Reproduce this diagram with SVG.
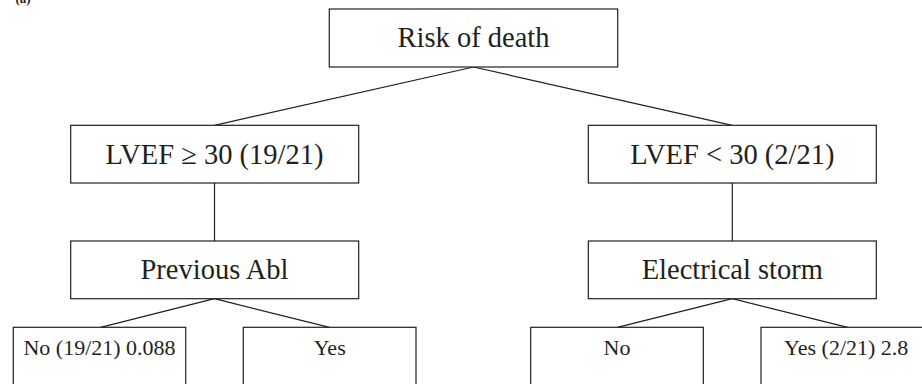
<svg xmlns="http://www.w3.org/2000/svg" width="922" height="384" viewBox="0 0 922 384">
<style>
.box{fill:#fff;stroke:#231f20;stroke-width:1.2}
.t{fill:#231f20;text-anchor:middle}
.big{font-size:28.5px}
.sm{font-size:22px}
.edge{stroke:#231f20;stroke-width:1.2;fill:none}
</style>
<rect width="922" height="384" fill="#fff"/>
<g font-family="'Liberation Serif', 'Times New Roman', Times, serif">
<text x="23" y="3" class="t" style="font-size:13px;font-weight:bold">(a)</text>
<g id="connectors">
<line class="edge" x1="473.5" y1="67" x2="214.5" y2="125.3"/>
<line class="edge" x1="473.5" y1="67" x2="732.3" y2="125.3"/>
<line class="edge" x1="214.5" y1="183" x2="214.5" y2="241"/>
<line class="edge" x1="732.3" y1="183" x2="732.3" y2="241"/>
<line class="edge" x1="214.5" y1="298.7" x2="100.5" y2="327.3"/>
<line class="edge" x1="214.5" y1="298.7" x2="329.5" y2="327.3"/>
<line class="edge" x1="732.3" y1="298.7" x2="617.3" y2="327.3"/>
<line class="edge" x1="732.3" y1="298.7" x2="847.7" y2="327.3"/>
</g>
<g id="root">
<rect class="box" x="329.3" y="9" width="288.4" height="58"/>
<text class="t big" x="473.5" y="46.7">Risk of death</text>
</g>
<g id="lvef-high">
<rect class="box" x="70.7" y="125.3" width="288" height="57.7"/>
<text class="t big" x="214.5" y="164.3">LVEF ≥ 30 (19/21)</text>
</g>
<g id="lvef-low">
<rect class="box" x="588.3" y="125.3" width="288" height="57.7"/>
<text class="t big" x="732.3" y="164.3">LVEF &lt; 30 (2/21)</text>
</g>
<g id="previous-abl">
<rect class="box" x="70.7" y="241" width="288" height="57.7"/>
<text class="t big" x="214.5" y="279">Previous Abl</text>
</g>
<g id="electrical-storm">
<rect class="box" x="588.3" y="241" width="288" height="57.7"/>
<text class="t big" x="732.3" y="279">Electrical storm</text>
</g>
<g id="abl-no">
<rect class="box" x="13.3" y="327.3" width="172.4" height="80"/>
<text class="t sm" x="99.5" y="355">No (19/21) 0.088</text>
</g>
<g id="abl-yes">
<rect class="box" x="243.3" y="327.3" width="172.7" height="80"/>
<text class="t sm" x="329.7" y="355">Yes</text>
</g>
<g id="storm-no">
<rect class="box" x="530.7" y="327.3" width="172.6" height="80"/>
<text class="t sm" x="617" y="355">No</text>
</g>
<g id="storm-yes">
<rect class="box" x="761" y="327.3" width="173.4" height="80"/>
<text class="t sm" x="846.2" y="355">Yes (2/21) 2.8</text>
</g>
</g>
</svg>
